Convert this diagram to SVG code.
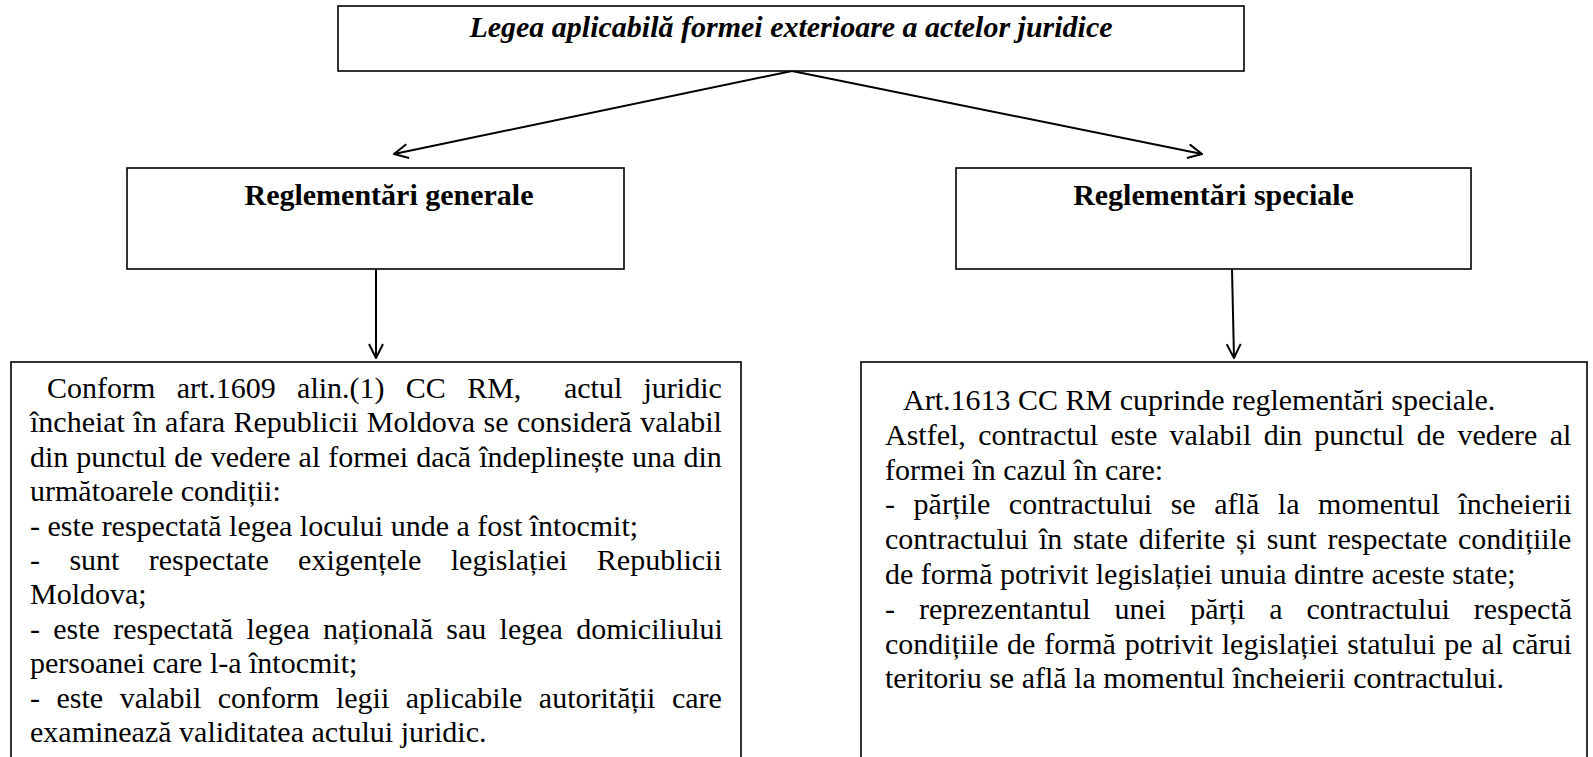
<svg xmlns="http://www.w3.org/2000/svg" width="1593" height="757" viewBox="0 0 1593 757">
<defs>
<style>
.box{fill:#fff;stroke:#000;stroke-width:1.6}
.t{font-family:"Liberation Serif","Times New Roman",serif;font-size:30px;fill:#000}
.b{font-weight:bold}
.bi{font-weight:bold;font-style:italic}
.c{fill:none;stroke:#000;stroke-width:2}
</style>
<marker id="ah" viewBox="0 0 16 16" markerWidth="16" markerHeight="16" refX="15" refY="8" orient="auto" markerUnits="userSpaceOnUse">
<path d="M1,1 L15,8 L1,15" fill="none" stroke="#000" stroke-width="2"/>
</marker>
</defs>
<rect width="1593" height="757" fill="#fff"/>
<g id="connectors">
<line class="c" x1="792" y1="71" x2="394" y2="154" marker-end="url(#ah)"/>
<line class="c" x1="792" y1="71" x2="1202" y2="154" marker-end="url(#ah)"/>
<line class="c" x1="376" y1="269" x2="376" y2="358" marker-end="url(#ah)"/>
<line class="c" x1="1232" y1="269" x2="1234" y2="358" marker-end="url(#ah)"/>
</g>
<g id="title">
<rect class="box" x="338" y="6" width="906" height="65"/>
<text class="t bi" x="791" y="37" text-anchor="middle">Legea aplicabilă formei exterioare a actelor juridice</text>
</g>
<g id="general">
<rect class="box" x="127" y="168" width="497" height="101"/>
<text class="t b" x="389" y="205" text-anchor="middle">Reglementări generale</text>
</g>
<g id="special">
<rect class="box" x="956" y="168" width="515" height="101"/>
<text class="t b" x="1213.5" y="205" text-anchor="middle">Reglementări speciale</text>
</g>
<g id="general-text">
<rect class="box" x="11" y="362" width="730" height="420"/>
<text class="t" x="47" y="398" word-spacing="13.8" xml:space="preserve">Conform art.1609 alin.(1) CC RM,  actul juridic</text>
<text class="t" x="30" y="432.4" word-spacing="0.9">încheiat în afara Republicii Moldova se consideră valabil</text>
<text class="t" x="30" y="466.8" word-spacing="0.5">din punctul de vedere al formei dacă îndeplinește una din</text>
<text class="t" x="30" y="501.2">următoarele condiții:</text>
<text class="t" x="30" y="535.6">- este respectată legea locului unde a fost întocmit;</text>
<text class="t" x="30" y="570" word-spacing="21.9">- sunt respectate exigențele legislației Republicii</text>
<text class="t" x="30" y="604.4">Moldova;</text>
<text class="t" x="30" y="638.8" word-spacing="5.8">- este respectată legea națională sau legea domiciliului</text>
<text class="t" x="30" y="673.2">persoanei care l-a întocmit;</text>
<text class="t" x="30" y="707.6" word-spacing="9">- este valabil conform legii aplicabile autorității care</text>
<text class="t" x="30" y="742">examinează validitatea actului juridic.</text>
</g>
<g id="special-text">
<rect class="box" x="861" y="362" width="726" height="420"/>
<text class="t" x="903" y="410">Art.1613 CC RM cuprinde reglementări speciale.</text>
<text class="t" x="885" y="444.8" word-spacing="4.9">Astfel, contractul este valabil din punctul de vedere al</text>
<text class="t" x="885" y="479.6">formei în cazul în care:</text>
<text class="t" x="885" y="514.4" word-spacing="11.1">- părțile contractului se află la momentul încheierii</text>
<text class="t" x="885" y="549.2" word-spacing="3.2">contractului în state diferite și sunt respectate condițiile</text>
<text class="t" x="885" y="584">de formă potrivit legislației unuia dintre aceste state;</text>
<text class="t" x="885" y="618.8" word-spacing="16.5">- reprezentantul unei părți a contractului respectă</text>
<text class="t" x="885" y="653.6" word-spacing="1.3">condițiile de formă potrivit legislației statului pe al cărui</text>
<text class="t" x="885" y="688.4">teritoriu se află la momentul încheierii contractului.</text>
</g>
</svg>
